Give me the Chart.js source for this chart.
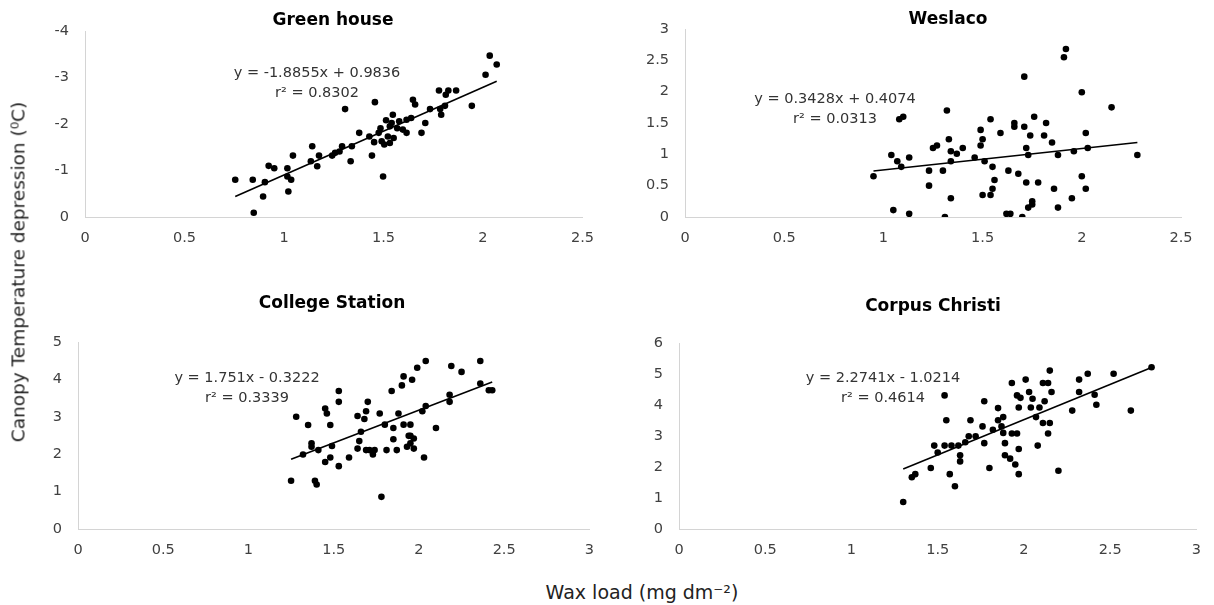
<!DOCTYPE html>
<html lang="en">
<head>
<meta charset="utf-8">
<title>Canopy temperature depression vs wax load</title>
<script src="https://cdn.jsdelivr.net/npm/chart.js@4"></script>
<style>
  html, body { margin: 0; padding: 0; background: #fff; }
  #page { position: relative; width: 1214px; height: 605px; overflow: hidden; font-family: "DejaVu Sans", sans-serif; }
  #page canvas { position: absolute; }
  .lbl { position: absolute; transform: translate(-50%, -50%); white-space: nowrap; color: #333; }
  .ttl { font-weight: bold; font-size: 17px; color: #000; }
  .eq { font-size: 14.5px; line-height: 20px; text-align: center; }
  .axt { font-size: 19px; color: #222; }
</style>
</head>
<body>
<div id="page">
  <canvas id="gh" width="607" height="260" style="left:0;top:0"></canvas>
  <canvas id="wes" width="607" height="260" style="left:600px;top:0"></canvas>
  <canvas id="cs" width="607" height="280" style="left:0;top:290px"></canvas>
  <canvas id="cc" width="614" height="280" style="left:600px;top:290px"></canvas>

  <div class="lbl ttl" style="left:333px;top:19px">Green house</div>
  <div class="lbl ttl" style="left:948px;top:18px">Weslaco</div>
  <div class="lbl ttl" style="left:332px;top:302px">College Station</div>
  <div class="lbl ttl" style="left:933px;top:305px">Corpus Christi</div>

  <div class="lbl eq" style="left:317px;top:82px">y = -1.8855x + 0.9836<br>r² = 0.8302</div>
  <div class="lbl eq" style="left:835px;top:108px">y = 0.3428x + 0.4074<br>r² = 0.0313</div>
  <div class="lbl eq" style="left:247px;top:387px">y = 1.751x - 0.3222<br>r² = 0.3339</div>
  <div class="lbl eq" style="left:883px;top:387px">y = 2.2741x - 1.0214<br>r² = 0.4614</div>

  <div class="lbl axt" style="left:18px;top:272px;font-size:18.5px;transform:translate(-50%,-50%) rotate(-90deg)">Canopy Temperature depression (⁰C)</div>
  <div class="lbl axt" style="left:642px;top:592px">Wax load (mg dm⁻²)</div>
</div>

<script>
// Green house
var ghX = [0.755,0.843,0.848,0.895,0.904,0.923,0.951,1.017,1.017,1.036,1.022,1.045,1.135,1.142,1.167,1.176,1.242,1.257,1.279,1.292,1.307,1.335,1.341,1.378,1.429,1.442,1.457,1.453,1.476,1.485,1.491,1.498,1.504,1.513,1.522,1.532,1.541,1.547,1.532,1.551,1.569,1.597,1.616,1.616,1.639,1.648,1.659,1.691,1.710,1.734,1.779,1.785,1.790,1.809,1.813,1.826,1.865,1.944,2.013,2.034,2.069,1.579];
var ghY = [-0.80,-0.80,-0.09,-0.44,-0.75,-1.10,-1.05,-1.05,-0.87,-0.80,-0.55,-1.32,-1.20,-1.52,-1.09,-1.32,-1.32,-1.38,-1.41,-1.52,-2.32,-1.20,-1.52,-1.81,-1.73,-1.32,-2.47,-1.61,-1.81,-1.91,-1.63,-0.87,-1.56,-2.08,-1.73,-1.95,-2.02,-2.20,-1.59,-1.70,-1.91,-1.88,-1.81,-2.09,-2.13,-2.52,-2.42,-1.81,-2.02,-2.32,-2.72,-2.32,-2.20,-2.39,-2.63,-2.72,-2.72,-2.39,-3.06,-3.47,-3.28,-2.06];
var ghFit = [-1.8855, 0.9836];

// Weslaco
var wesX = [0.95,1.04,1.05,1.07,1.08,1.10,1.09,1.13,1.13,1.23,1.23,1.25,1.27,1.32,1.33,1.34,1.34,1.34,1.30,1.31,1.37,1.40,1.46,1.49,1.49,1.50,1.50,1.51,1.54,1.54,1.55,1.55,1.56,1.59,1.62,1.64,1.63,1.66,1.66,1.68,1.70,1.71,1.71,1.72,1.72,1.73,1.73,1.74,1.75,1.75,1.76,1.78,1.81,1.82,1.85,1.86,1.88,1.88,1.91,1.92,1.95,1.96,2.00,2.00,2.02,2.02,2.03,2.15,2.28];
var wesY = [0.65,0.99,0.11,0.89,1.56,1.60,0.80,0.95,0.05,0.74,0.50,1.10,1.14,1.70,1.24,1.05,0.89,0.30,0.74,0.00,1.01,1.10,0.95,1.39,1.14,1.24,0.35,0.89,1.56,0.35,0.45,0.80,0.59,1.34,0.05,0.05,0.74,1.50,1.44,0.69,0.00,1.44,2.24,1.10,0.55,0.99,0.15,1.30,0.25,0.20,1.60,0.55,1.30,1.50,1.19,0.45,0.99,0.15,2.55,2.68,0.30,1.05,1.99,0.65,1.34,0.45,1.10,1.75,0.99];
var wesFit = [0.3428, 0.4074];

// College Station
var csX = [1.25,1.28,1.32,1.35,1.37,1.37,1.39,1.40,1.41,1.45,1.46,1.45,1.48,1.48,1.49,1.53,1.53,1.53,1.59,1.64,1.64,1.65,1.66,1.68,1.69,1.70,1.69,1.71,1.73,1.74,1.77,1.78,1.80,1.81,1.84,1.85,1.85,1.88,1.87,1.90,1.91,1.91,1.93,1.94,1.95,1.95,1.95,1.96,1.97,1.97,1.99,2.02,2.03,2.04,2.04,2.10,2.18,2.18,2.19,2.25,2.36,2.36,2.41,2.43];
var csY = [1.29,3.00,1.99,2.78,2.29,2.20,1.29,1.19,2.11,3.22,3.09,1.79,2.78,1.91,2.22,3.69,3.40,1.68,1.91,3.02,2.15,2.35,2.60,2.94,3.15,3.40,2.11,2.11,1.99,2.11,3.09,0.86,2.79,2.11,3.69,2.70,2.40,3.09,2.11,3.84,2.79,4.08,2.20,2.49,2.79,2.49,2.29,3.99,2.15,2.42,4.31,3.15,1.91,4.49,3.29,2.70,3.40,3.59,4.36,4.20,4.49,3.89,3.71,3.71];
var csFit = [1.751, -0.3222];

// Corpus Christi
var ccX = [1.30,1.35,1.37,1.46,1.48,1.50,1.54,1.54,1.55,1.57,1.58,1.60,1.62,1.63,1.63,1.66,1.68,1.69,1.72,1.76,1.77,1.77,1.80,1.82,1.85,1.85,1.87,1.88,1.88,1.89,1.89,1.92,1.93,1.93,1.95,1.96,1.96,1.97,1.97,1.97,1.98,2.01,2.03,2.04,2.05,2.07,2.08,2.09,2.11,2.11,2.12,2.14,2.14,2.15,2.15,2.16,2.20,2.28,2.32,2.32,2.37,2.41,2.42,2.52,2.62,2.74];
var ccY = [0.87,1.67,1.77,1.97,2.69,2.47,2.69,4.31,3.51,1.77,2.69,1.38,2.69,2.38,2.18,2.80,2.99,3.51,2.99,3.31,4.12,2.77,1.97,3.20,3.90,3.51,3.31,3.61,3.10,2.77,2.38,2.27,4.71,3.08,2.08,3.08,4.31,3.92,1.77,2.58,4.23,4.82,4.42,3.92,4.20,3.61,2.69,3.92,3.42,4.71,4.12,4.71,3.08,5.11,3.42,4.42,1.88,3.82,4.82,4.42,5.01,4.33,4.01,5.01,3.82,5.22];
var ccFit = [2.2741, -1.0214];

// axis ranges [min, max, step]
var ghXAxis = [0, 2.5, 0.5], ghYAxis = [-4, 0, 1];
var wesXAxis = [0, 2.5, 0.5], wesYAxis = [0, 3, 0.5];
var csXAxis = [0, 3, 0.5], csYAxis = [0, 5, 1];
var ccXAxis = [0, 3, 0.5], ccYAxis = [0, 6, 1];

var tickFont = { family: 'DejaVu Sans', size: 14.5 };
var tickColor = '#404040';
var axisColor = '#d4d4d4';

// Excel style labels: 1 instead of 1.0
function plainTick(v) { return String(Number(v.toFixed(2))); }

function makePanel(id, xs, ys, fit, xr, yr, reverse, yw, padTop, padRight, xh) {
    var pts = xs.map(function (x, i) { return { x: x, y: ys[i] }; });
    var x0 = Math.min.apply(null, xs), x1 = Math.max.apply(null, xs);
    var line = [{ x: x0, y: fit[0] * x0 + fit[1] }, { x: x1, y: fit[0] * x1 + fit[1] }];

    new Chart(document.getElementById(id), {
        type: 'scatter',
        data: {
            datasets: [
                { data: line, showLine: true, borderColor: '#000', borderWidth: 1.6, pointRadius: 0, order: 0 },
                { data: pts, backgroundColor: '#000', borderWidth: 0, pointRadius: 3.3, order: 1 }
            ]
        },
        options: {
            responsive: false,
            animation: false,
            devicePixelRatio: 1,
            layout: { padding: { left: 0, top: padTop, right: padRight, bottom: 0 } },
            plugins: { legend: { display: false }, tooltip: { enabled: false } },
            scales: {
                x: {
                    type: 'linear', min: xr[0], max: xr[1],
                    grid: { display: false, drawTicks: false },
                    border: { display: true, color: axisColor, width: 1 },
                    ticks: { stepSize: xr[2], autoSkip: false, maxRotation: 0, font: tickFont, color: tickColor, padding: 13, callback: plainTick },
                    afterFit: function (s) { s.height = xh; }
                },
                y: {
                    type: 'linear', min: yr[0], max: yr[1], reverse: reverse,
                    grid: { display: false, drawTicks: false },
                    border: { display: true, color: axisColor, width: 1 },
                    ticks: { stepSize: yr[2], autoSkip: false, font: tickFont, color: tickColor, padding: 16, callback: plainTick },
                    afterFit: function (s) { s.width = yw; }
                }
            }
        }
    });
}

makePanel('gh', ghX, ghY, ghFit, ghXAxis, ghYAxis, true, 85, 31, 15, 43);
makePanel('wes', wesX, wesY, wesFit, wesXAxis, wesYAxis, false, 85, 29, 26, 43);
makePanel('cs', csX, csY, csFit, csXAxis, csYAxis, false, 78, 52, 10, 41);
makePanel('cc', ccX, ccY, ccFit, ccXAxis, ccYAxis, false, 79, 53, 16, 41);
</script>
</body>
</html>
